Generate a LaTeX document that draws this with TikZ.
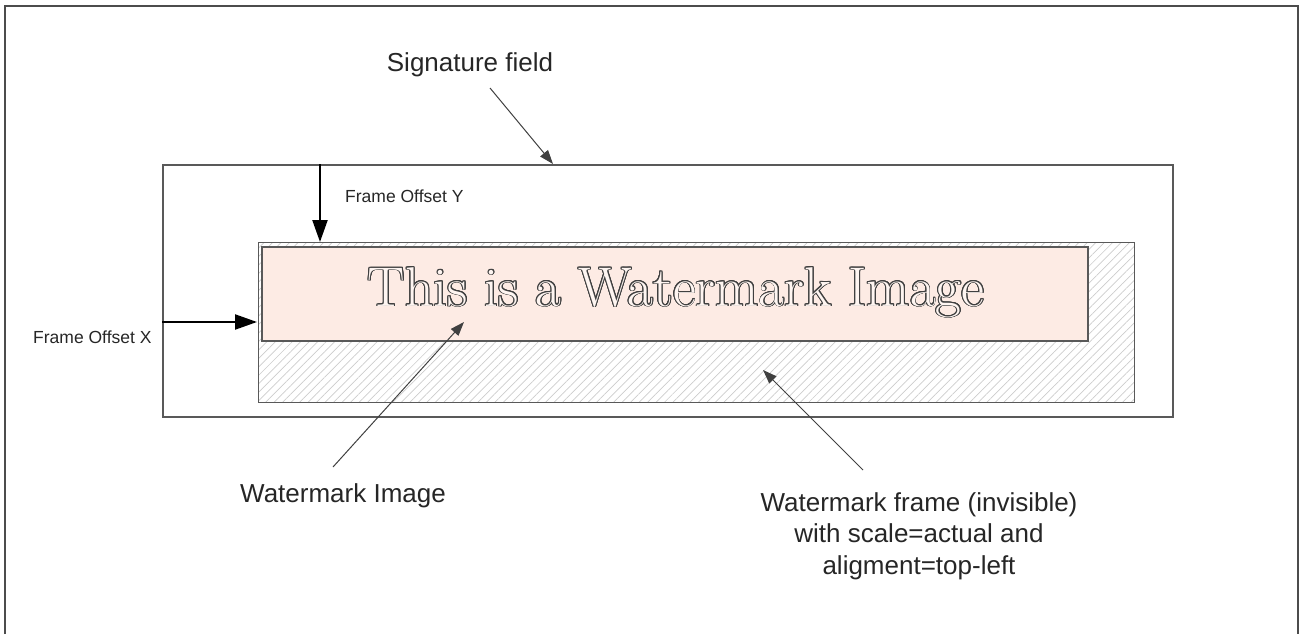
\documentclass[tikz,border=0pt]{standalone}
\usepackage{fontspec}
\setsansfont{Liberation Sans}
\usepackage[copies]{contour}
\usetikzlibrary{arrows.meta,patterns.meta}
\definecolor{wmpink}{RGB}{253,235,228}
\begin{document}
\begin{tikzpicture}[x=1pt,y=-1pt,
  box/.style={draw=black!65, line width=1.5pt, inner sep=0pt, anchor=north west},
  lbl/.style={font=\sffamily\fontsize{26}{31.5}\selectfont, inner sep=0pt, text=black!85},
  smlbl/.style={font=\sffamily\fontsize{17.5}{21}\selectfont, inner sep=0pt, text=black!85},
  pointer/.style={draw=black!75, line width=1pt, -{Triangle[length=14pt,width=10pt]}},
  offset/.style={draw=black, line width=2.2pt, -{Triangle[length=22pt,width=15pt]}}]
\useasboundingbox (0,0) rectangle (1305,634);
\draw[black!70, line width=2pt] (5,634) -- (5,6) -- (1298,6) -- (1298,634);
\node[box, minimum width=1010pt, minimum height=252pt] (sigfield) at (162,164){};
\node[box, minimum width=876pt, minimum height=160pt, pattern={Lines[angle=45,distance=6pt,line width=0.7pt]}, pattern color=black!20] (wmframe) at (258,242){};
\node[box, fill=wmpink, minimum width=826pt, minimum height=94pt] (wmimage) at (261,246){};
\node[anchor=base, inner sep=0pt, font=\fontsize{56}{56}\selectfont] (wmtext) at (676,306){\contourlength{0.9pt}\contour{black!75}{\textcolor{wmpink!50}{This is a Watermark Image}}};
\node[lbl, anchor=base] (sigtxt) at (470,71){Signature field};
\node[lbl, anchor=base west] (wmimgtxt) at (240,502){Watermark Image};
\node[lbl, align=center, anchor=north] (wmfrtxt) at (919,492){Watermark frame (invisible)\\with scale=actual and\\aligment=top-left};
\node[smlbl, anchor=base west] (offxtxt) at (33,343){Frame Offset X};
\node[smlbl, anchor=base west] (offytxt) at (345,202){Frame Offset Y};
\coordinate (sigtail) at (490,88);
\coordinate (sigtip) at (553,164);
\coordinate (imgtail) at (333,467);
\coordinate (imgtip) at (464,322);
\coordinate (frtail) at (863,470);
\coordinate (frtip) at (763,370);
\coordinate (offx0) at (162,322);
\coordinate (offx1) at (257,322);
\coordinate (offy0) at (320,164);
\coordinate (offy1) at (320,242);
\draw[pointer](sigtail) -- (sigtip);
\draw[pointer](imgtail) -- (imgtip);
\draw[pointer](frtail) -- (frtip);
\draw[offset](offx0) -- (offx1);
\draw[offset](offy0) -- (offy1);
\end{tikzpicture}
\end{document}
